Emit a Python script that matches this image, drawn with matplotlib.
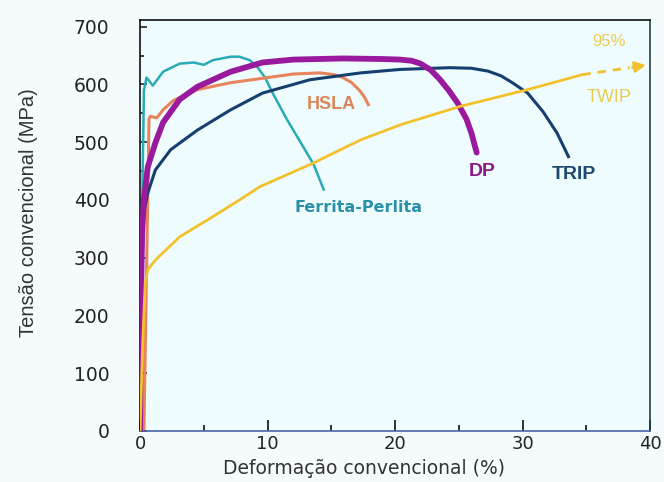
import matplotlib.pyplot as plt
from matplotlib import font_manager
from matplotlib.ticker import MultipleLocator

plt.rcParams['font.family'] = ['DejaVu Sans']

# curvas tensão-deformação (deformação em %, tensão em MPa)
ferr_x = [0, 0.1, 0.3, 0.5, 1.0, 1.8, 3.1, 4.2, 5.0, 5.7, 7.1, 7.8, 8.6, 9.2, 9.8, 10.4, 11.5, 12.5, 13.6, 14.4]
ferr_y = [0, 300, 590, 612, 598, 622, 636, 638, 634, 642, 648, 648, 642, 630, 612, 585, 540, 503, 462, 418]

hsla_x = [0.3, 0.7, 0.8, 1.3, 1.8, 2.6, 4.5, 7.1, 9.4, 12.0, 14.1, 15.2, 15.9, 16.6, 17.2, 17.6, 17.9]
hsla_y = [0, 540, 545, 542, 556, 572, 591, 603, 610, 618, 620, 617, 612, 603, 590, 578, 565]

dp_x = [0, 0.05, 0.15, 0.3, 0.6, 1.2, 1.8, 3.1, 4.5, 7.1, 9.6, 12.0, 15.9, 19.0, 20.4, 21.3, 22.0, 22.8, 23.5,
        24.2, 24.9, 25.6, 26.0, 26.4]
dp_y = [0, 200, 340, 400, 457, 499, 534, 574, 596, 622, 638, 643, 645, 644, 643, 641, 636, 625, 609,
        590, 568, 540, 515, 482]

trip_x = [0, 0.1, 0.3, 0.6, 1.2, 2.4, 4.5, 7.1, 9.6, 13.3, 17.3, 20.4, 24.3, 26.0, 27.3, 28.3, 29.2, 30.4,
          31.6, 32.7, 33.6]
trip_y = [0, 250, 380, 412, 452, 487, 521, 556, 585, 608, 620, 626, 629, 628, 623, 615, 603, 585,
          553, 516, 475]

twip_x = [0, 0.2, 0.4, 0.6, 1.2, 3.1, 5.7, 7.8, 9.4, 13.6, 17.3, 20.4, 25.1, 30.4, 34.7]
twip_y = [0, 150, 255, 279, 296, 336, 371, 400, 423, 464, 504, 530, 562, 591, 617]
# prolongamento tracejado do TWIP (até 95%)
twip_ext_x = [34.7, 38.4, 39.9]
twip_ext_y = [617, 629, 634]

installed = {f.name for f in font_manager.fontManager.ttflist}
narrow = 'Liberation Sans Narrow' if 'Liberation Sans Narrow' in installed else 'Liberation Sans'

fig = plt.figure(figsize=(6.64, 4.82), dpi=100, facecolor='#f3fbfc')
ax = fig.add_axes([0.211, 0.106, 0.768, 0.853], facecolor='#effcfd')

ax.plot(ferr_x, ferr_y, color='#29aab7', lw=1.8, zorder=2)
ax.plot(hsla_x, hsla_y, color='#e8845c', lw=2.2, zorder=2)
ax.plot(trip_x, trip_y, color='#163f6e', lw=2.2, zorder=3)
ax.plot(dp_x, dp_y, color='#9a1a9e', lw=4.2, zorder=4, solid_capstyle='round')
ax.plot(twip_x, twip_y, color='#f2c12e', lw=2.0, zorder=5)
ax.plot(twip_ext_x[:2], twip_ext_y[:2], color='#f2c12e', lw=2.0, ls=(0, (3, 2.5)), zorder=5)
ax.annotate('', xy=(twip_ext_x[2], twip_ext_y[2]), xytext=(twip_ext_x[1], twip_ext_y[1]),
            arrowprops=dict(arrowstyle='-|>', color='#f2c12e', lw=2, mutation_scale=16), zorder=5)

# rótulos das curvas
ax.text(15.0, 565, 'HSLA', color='#d9865a', fontsize=13, fontweight='bold', family=narrow,
        ha='center', va='center')
ax.text(17.1, 387, 'Ferrita-Perlita', color='#2a90a8', fontsize=11.5, fontweight='bold',
        ha='center', va='center')
ax.text(26.8, 449, 'DP', color='#8b1a8b', fontsize=14, fontweight='bold', family=narrow,
        ha='center', va='center')
ax.text(34.0, 444, 'TRIP', color='#1f4a70', fontsize=14, fontweight='bold', family=narrow,
        ha='center', va='center')
ax.text(36.8, 578, 'TWIP', color='#e8cc55', fontsize=13, family=narrow, ha='center', va='center')
ax.text(36.8, 674, '95%', color='#e8cc55', fontsize=12, family=narrow, ha='center', va='center')

ax.set_xlim(0, 40)
ax.set_ylim(0, 712)
ax.xaxis.set_major_locator(MultipleLocator(10))
ax.xaxis.set_minor_locator(MultipleLocator(5))
ax.yaxis.set_major_locator(MultipleLocator(100))
ax.yaxis.set_minor_locator(MultipleLocator(50))
ax.tick_params(axis='both', which='both', direction='in', labelsize=13.5, colors='#222222')
ax.tick_params(axis='x', labelsize=13)
ax.tick_params(axis='y', which='major', length=5, width=1.2, pad=22)
ax.tick_params(axis='y', which='minor', length=3, width=1.2)
ax.tick_params(axis='x', which='major', length=8, width=1.3, pad=3)
ax.tick_params(axis='x', which='minor', length=4, width=1.3)

ax.spines['top'].set_color('#111111')
ax.spines['left'].set_color('#111111')
ax.spines['right'].set_color('#2b3a55')
ax.spines['bottom'].set_color('#4a66a8')
for s in ax.spines.values():
    s.set_linewidth(1.2)

ax.set_xlabel('Deformação convencional (%)', fontsize=13.5, color='#333333')
ax.xaxis.set_label_coords(0.44, -0.068)
ax.set_ylabel('Tensão convencional (MPa)', fontsize=14.5, family='Liberation Sans', color='#333333')
ax.yaxis.set_label_coords(-0.2, 0.53)

fig.savefig('out.png', dpi=100, facecolor=fig.get_facecolor())
